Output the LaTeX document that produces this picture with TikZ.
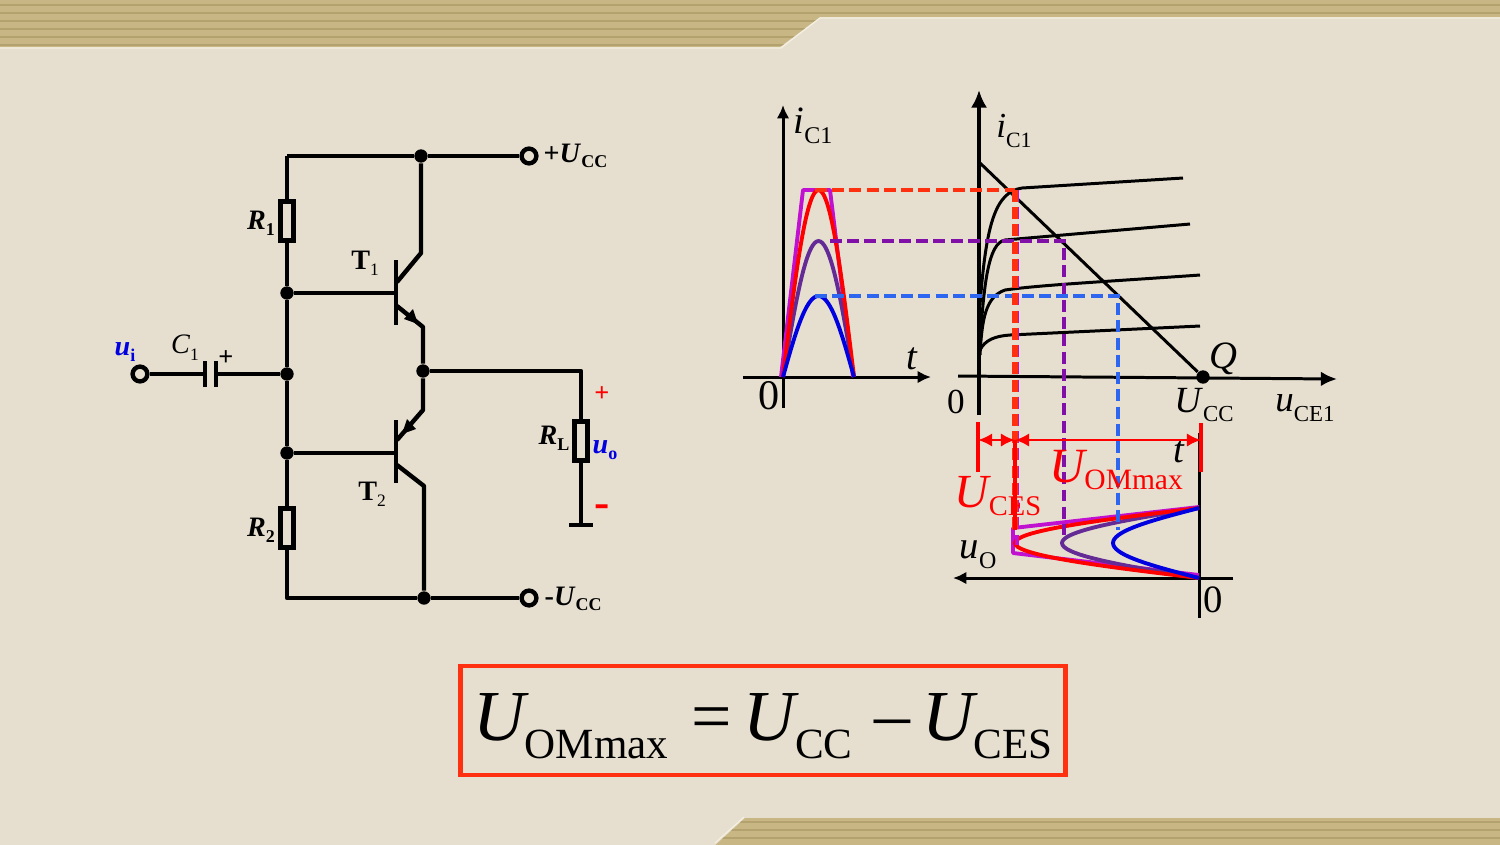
\documentclass[tikz,border=0pt]{standalone}
\usepackage{fontspec}
\setmainfont{Liberation Serif}
\usetikzlibrary{shapes, arrows, arrows.meta}
\definecolor{paper}{HTML}{E6DFCF}
\definecolor{band}{HTML}{C8B684}
\definecolor{bandline}{HTML}{B3A16E}
\definecolor{bandedge}{HTML}{F4EFE0}
\definecolor{lblue}{HTML}{0000E0}
\definecolor{dblue}{HTML}{2F66F0}
\definecolor{dred}{HTML}{FF3010}
\definecolor{dpurple}{HTML}{8010A8}
\definecolor{mpurple}{HTML}{642A96}
\definecolor{mag}{HTML}{C010D0}
\newcommand{\symb}[2]{\textit{#1}\raisebox{-.26em}{\scalebox{.62}{#2}}}
\newcommand{\bsymb}[2]{\textbf{\textit{#1}}\raisebox{-.2em}{\scalebox{.64}{\textbf{#2}}}}
\newcommand{\bigsym}[2]{\textit{#1}\hspace{-.06em}\raisebox{-.24em}{\scalebox{.6}{#2}}}
\newcommand{\redsym}[2]{\textit{#1}\hspace{-.06em}\raisebox{-.16em}{\scalebox{.6}{#2}}}
\newcommand{\fsize}[1]{\fontsize{#1}{#1}\selectfont}
\begin{document}
\begin{tikzpicture}[x=0.01cm,y=-0.01cm,
      wire/.style={line width=1.25pt,line join=round},
      axis/.style={line width=0.85pt},
      axis tip/.style={-{Latex[length=3.8pt,width=3.6pt]}},
      curve/.style={line width=1.1pt,line join=round},
      dash line/.style={line width=1.15pt,dash pattern=on 3.4pt off 1.5pt},
      dot node/.style={circle,fill=black,inner sep=0pt,minimum size=3.8pt},
      term node/.style={circle,draw,fill=paper,line width=1.25pt,inner sep=0pt,minimum size=4.2pt},
      res node/.style={rectangle,draw,fill=paper,line width=1.25pt,inner sep=0pt,minimum width=3.6pt,minimum height=11pt},
      lab node/.style={inner sep=0pt,font=\fsize{8}},
      big node/.style={inner sep=0pt,font=\fsize{10.5}},
      red node/.style={inner sep=0pt,text=red,font=\fsize{14}}]
    \useasboundingbox (0,0) rectangle (1500,844);

    % background and bands
    \path[fill=paper] (-5,-5) rectangle (1505,849);
    \path[fill=band] (-5,-5) -- (1505,-5) -- (1505,17) -- (820,17) -- (780,47) -- (-5,47) -- cycle;
    \path[fill=band] (711,849) -- (745,818) -- (1505,818) -- (1505,849) -- cycle;
    \begin{scope}
        \clip (-5,-5) -- (1505,-5) -- (1505,17) -- (820,17) -- (780,47) -- (-5,47) -- cycle;
        \foreach \y in {5,13,21,29,37,45}
            \draw[bandline,line width=0.7pt] (-5,\y) -- (1505,\y);
    \end{scope}
    \begin{scope}
        \clip (711,849) -- (745,818) -- (1505,818) -- (1505,849) -- cycle;
        \foreach \y in {822,830,838}
            \draw[bandline,line width=0.7pt] (700,\y) -- (1505,\y);
    \end{scope}
    \draw[bandedge,line width=0.35pt] (1505,18) -- (820,18) -- (781,48) -- (-5,48);
    \draw[bandedge,line width=0.35pt] (715,843) -- (744,817);

    % circuit
    \coordinate (tl) at (287,156);
    \coordinate (bl) at (287,598);
    \node[dot node] (top) at (421,156) {};
    \node[dot node] (bot) at (424,598) {};
    \node[dot node] (b1) at (287,293) {};
    \node[dot node] (in) at (287,374) {};
    \node[dot node] (b2) at (287,453) {};
    \node[dot node] (out) at (423,371) {};
    \node[term node] (vcc) at (529,156) {};
    \node[term node] (vee) at (529,598) {};
    \node[term node] (ui) at (140,374) {};

    \draw[wire] (tl) -- (top) -- (vcc);
    \draw[wire] (tl) -- (b1) -- (in) -- (b2) -- (bl) -- (bot) -- (vee);
    \node[res node] (r1) at (287,221) {};
    \node[res node] (r2) at (287,528) {};

    % capacitor
    \coordinate (c1l) at (205,374);
    \coordinate (c1r) at (216,374);
    \draw[wire] (ui) -- (c1l);
    \draw[wire] (c1r) -- (in);
    \draw[wire] (205,361) -- (205,387);
    \draw[wire] (216,361) -- (216,387);

    % transistors
    \coordinate (q1b) at (396,293);
    \coordinate (q2b) at (396,453);
    \draw[wire] (396,260) -- (396,325);
    \draw[wire] (396,420) -- (396,483);
    \draw[wire] (b1) -- (q1b);
    \draw[wire] (b2) -- (q2b);
    \draw[wire] (top) -- (421,253) -- (397,282);
    \draw[wire] (397,306) -- (423,327) -- (out);
    \draw[wire] (out) -- (423,410) -- (397,440);
    \draw[wire] (397,465) -- (424,486) -- (bot);
    \path[fill=black] (418,324) -- (404,319) -- (413,309) -- cycle;
    \path[fill=black] (402,434) -- (416,429) -- (407,419) -- cycle;

    % load
    \coordinate (rlt) at (581,371);
    \coordinate (gnd) at (581,525);
    \draw[wire] (out) -- (rlt) -- (gnd);
    \draw[wire] (569,525) -- (593,525);
    \node[res node] (rl) at (581,441) {};

    % circuit labels
    \node[lab node,anchor=west] (lvcc) at (543,156) {\textbf{+}\bsymb{U}{CC}};
    \node[lab node,anchor=west] (lvee) at (544,599) {\textbf{-}\bsymb{U}{CC}};
    \node[lab node] (lr1) at (261,223) {\bsymb{R}{1}};
    \node[lab node] (lr2) at (261,530) {\bsymb{R}{2}};
    \node[lab node] (lrl) at (554,438) {\bsymb{R}{L}};
    \node[lab node,text=lblue] (luo) at (605,450) {\bsymb{u}{o}};
    \node[lab node,text=lblue] (lui) at (125,352) {\bsymb{u}{i}};
    \node[lab node] (lc1) at (185,348) {\symb{C}{1}};
    \node[lab node] (lt1) at (365,263) {\textbf{T}\raisebox{-.2em}{\scalebox{.62}{1}}};
    \node[lab node] (lt2) at (372,494) {\textbf{T}\raisebox{-.2em}{\scalebox{.62}{2}}};
    \node[lab node,font=\fsize{7.5}\bfseries] (lcp) at (226,358) {+};
    \node[lab node,text=red,font=\fsize{7.5}\bfseries] (lp) at (602,394) {+};
    \node[lab node,text=red,font=\fsize{13}\bfseries] (lm) at (602,511) {-};

    % left graph
    \coordinate (ax1t) at (783,105);
    \coordinate (ax1b) at (783,408);
    \coordinate (ax1l) at (743,377);
    \coordinate (ax1r) at (931,377);
    \draw[axis,axis tip] (ax1b) -- (ax1t);
    \draw[axis,axis tip] (ax1l) -- (ax1r);
    \draw[curve,mag] (781,377) -- (803,190) -- (830,190) -- (853,377);
    \draw[curve,mpurple] plot[smooth,domain=0:180,samples=37] ({783+\x/180*71},{377-136*sin(\x)});
    \draw[curve,red] plot[smooth,domain=0:180,samples=37] ({783+\x/180*71},{377-187*sin(\x)});
    \draw[curve,lblue] plot[smooth,domain=0:180,samples=37] ({783+\x/180*71},{377-81*sin(\x)});

    % right graph
    \coordinate (ax2t) at (979,90);
    \coordinate (ax2b) at (979,415);
    \coordinate (ax2l) at (958,376);
    \coordinate (ax2r) at (1337,379);
    \node[dot node] (q) at (1203,377) {};
    \draw[axis,line width=1.1pt,-{Latex[length=5pt,width=4.6pt]}] (ax2b) -- (ax2t);
    \draw[axis,-{Latex[length=4.6pt,width=4.2pt]}] (ax2l) -- (ax2r);
    \draw[axis] (980,163) -- (q);
    \draw[axis] (980,305) .. controls (986,225) and (995,192) .. (1022,188) -- (1183,178);
    \draw[axis] (980,342) .. controls (984,285) and (988,243) .. (1005,240) -- (1190,224);
    \draw[axis] (980,355) .. controls (982,320) and (985,297) .. (1005,290) .. controls (1040,285) and (1100,282) .. (1200,275);
    \draw[axis] (980,350) .. controls (985,340) and (995,336) .. (1010,335) -- (1200,326);

    % bottom graph
    \coordinate (ax3t) at (1199,433);
    \coordinate (ax3b) at (1199,618);
    \coordinate (ax3r) at (1233,578);
    \coordinate (ax3l) at (953,578);
    \draw[axis] (ax3t) -- (ax3b);
    \draw[axis,axis tip] (ax3r) -- (ax3l);
    \draw[curve,mag] (1199,507) -- (1013,528) -- (1013,553) -- (1199,575);
    \draw[curve,mpurple] plot[smooth,domain=0:180,samples=37] ({1199-137*sin(\x)},{578-\x/180*70});
    \draw[curve,red] plot[smooth,domain=0:180,samples=37] ({1199-184*sin(\x)},{578-\x/180*70});
    \draw[curve,lblue] plot[smooth,domain=0:180,samples=37] ({1199-86*sin(\x)},{578-\x/180*70});

    % dashed projections
    \draw[dash line,dpurple] (830,241) -- (1064,241) -- (1064,535);
    \draw[dash line,dblue] (815,296) -- (1118,296) -- (1118,530);
    \draw[dash line,mag] (1017,190) -- (1017,545);
    \draw[dash line,dred,line width=1.5pt] (1015,190) -- (1015,530);
    \draw[dash line,dred] (815,190) -- (1015,190);

    % graph labels
    \node[big node,font=\fsize{11}] (li1) at (813,126) {\symb{i}{C1}};
    \node[big node,font=\fsize{10}] (li2) at (1014,131) {\symb{i}{C1}};
    \node[big node,font=\fsize{11}] (lt) at (912,359) {\textit{t}};
    \node[big node,font=\fsize{12}] (l01) at (769,396) {0};
    \node[big node,font=\fsize{10}] (l02) at (956,402) {0};
    \node[big node,font=\fsize{11}] (lq) at (1223,359) {\textit{Q}};
    \node[big node] (lu1) at (1204,405) {\symb{U}{CC}};
    \node[big node] (lu2) at (1305,408) {\symb{u}{CE1}};
    \node[big node,font=\fsize{11}] (lt3) at (1179,452) {\textit{t}};
    \node[big node,font=\fsize{11}] (luo2) at (978,555) {\symb{u}{O}};
    \node[big node,font=\fsize{11}] (l03) at (1213,600) {0};

    % red measures
    \coordinate (m1) at (978,440);
    \coordinate (m2) at (1015,440);
    \coordinate (m3) at (1201,440);
    \draw[red,line width=1pt] (978,422) -- (978,472);
    \draw[red,line width=1pt] (1201,423) -- (1201,472);
    \draw[red,line width=1.1pt] (1015,440) -- (1015,530);
    \draw[red,line width=0.7pt,{Latex[length=4pt,width=3.8pt]}-{Latex[length=4pt,width=3.8pt]}] (m1) -- (m2);
    \draw[red,line width=0.7pt,{Latex[length=4pt,width=3.8pt]}-{Latex[length=4pt,width=3.8pt]}] (m2) -- (m3);
    \node[red node] (lom) at (1116,470) {\redsym{U}{OMmax}};
    \node[red node,font=\fsize{13.5}] (lces) at (998,496) {\redsym{U}{CES}};

    % formula
    \node[draw=dred,line width=1.2pt,minimum width=172pt,minimum height=31pt,inner sep=0pt,font=\fsize{20.4}] (formula) at (763,720.5)
        {\raisebox{-5.8pt}[0pt][0pt]{\bigsym{U}{OMmax}\hspace{.32em}=\hspace{.17em}\bigsym{U}{CC}\hspace{.3em}\raisebox{.03em}{--}\hspace{.17em}\bigsym{U}{CES}}};
\end{tikzpicture}
\end{document}
